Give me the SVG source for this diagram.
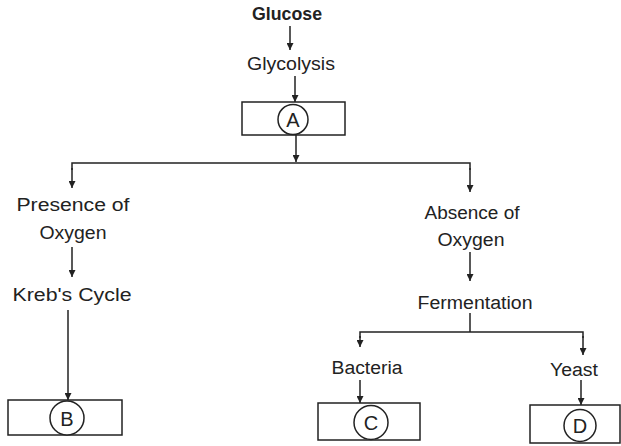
<svg xmlns="http://www.w3.org/2000/svg" width="621" height="446" viewBox="0 0 621 446">
<defs>
<marker id="ah" viewBox="0 0 10 10" refX="10" refY="5" markerWidth="7" markerHeight="7" markerUnits="userSpaceOnUse" orient="auto">
<path d="M0,0 L10,5 L0,10 z" fill="#222"/>
</marker>
</defs>
<style>
text{font-family:"Liberation Sans",Arial,sans-serif;font-size:18px;fill:#222;text-anchor:middle}
.lt{font-size:20px}
.box{fill:#fff;stroke:#222;stroke-width:1.5}
.circ{fill:#fff;stroke:#222;stroke-width:1.5}
.ln{fill:none;stroke:#222;stroke-width:1.5}
.arr{fill:none;stroke:#222;stroke-width:1.5;marker-end:url(#ah)}
</style>
<rect width="621" height="446" fill="#fff"/>
<g id="connectors">
<line class="arr" x1="290" y1="26" x2="290" y2="50"/>
<line class="arr" x1="295" y1="76" x2="295" y2="102"/>
<line class="arr" x1="296" y1="135" x2="296" y2="162"/>
<polyline class="ln" points="72,170 72,163 470,163 470,170"/>
<line class="arr" x1="72" y1="168" x2="72" y2="188"/>
<line class="arr" x1="470" y1="168" x2="470" y2="192"/>
<line class="arr" x1="72" y1="247" x2="72" y2="277"/>
<line class="arr" x1="68" y1="310" x2="68" y2="400"/>
<line class="arr" x1="470" y1="252" x2="470" y2="281"/>
<polyline class="ln" points="470,313 470,332"/>
<polyline class="ln" points="360,338 360,332 583,332 583,338"/>
<line class="arr" x1="360" y1="336" x2="360" y2="347"/>
<line class="arr" x1="583" y1="336" x2="583" y2="355"/>
<line class="arr" x1="360" y1="380" x2="360" y2="403"/>
<line class="arr" x1="581" y1="380" x2="581" y2="405"/>
</g>
<g id="glucose"><text x="287" y="20" font-size="15" font-weight="bold" textLength="70" lengthAdjust="spacingAndGlyphs">Glucose</text></g>
<g id="glycolysis"><text x="291" y="70" font-size="16" textLength="88" lengthAdjust="spacingAndGlyphs">Glycolysis</text></g>
<g id="nodeA"><rect class="box" x="242" y="102" width="103" height="33"/><circle class="circ" cx="293" cy="119.5" r="15"/><text class="lt" x="293" y="127">A</text></g>
<g id="presence"><text x="73" y="211" textLength="113" lengthAdjust="spacingAndGlyphs">Presence of</text><text x="73" y="239" textLength="67" lengthAdjust="spacingAndGlyphs">Oxygen</text></g>
<g id="kreb"><text x="72" y="301" textLength="119" lengthAdjust="spacingAndGlyphs">Kreb's Cycle</text></g>
<g id="nodeB"><rect class="box" x="8" y="400" width="114" height="35"/><circle class="circ" cx="67" cy="418" r="17"/><text class="lt" x="67" y="425.5">B</text></g>
<g id="absence"><text x="472" y="219" textLength="95" lengthAdjust="spacingAndGlyphs">Absence of</text><text x="471" y="246" textLength="67" lengthAdjust="spacingAndGlyphs">Oxygen</text></g>
<g id="fermentation"><text x="475" y="309" textLength="115" lengthAdjust="spacingAndGlyphs">Fermentation</text></g>
<g id="bacteria"><text x="367" y="374" textLength="71" lengthAdjust="spacingAndGlyphs">Bacteria</text></g>
<g id="yeast"><text x="574" y="376" textLength="48" lengthAdjust="spacingAndGlyphs">Yeast</text></g>
<g id="nodeC"><rect class="box" x="318" y="403" width="102" height="37"/><circle class="circ" cx="371" cy="422.5" r="17"/><text class="lt" x="371" y="430">C</text></g>
<g id="nodeD"><rect class="box" x="530" y="405" width="90" height="38"/><circle class="circ" cx="580" cy="425.5" r="16"/><text class="lt" x="580" y="433">D</text></g>
</svg>
